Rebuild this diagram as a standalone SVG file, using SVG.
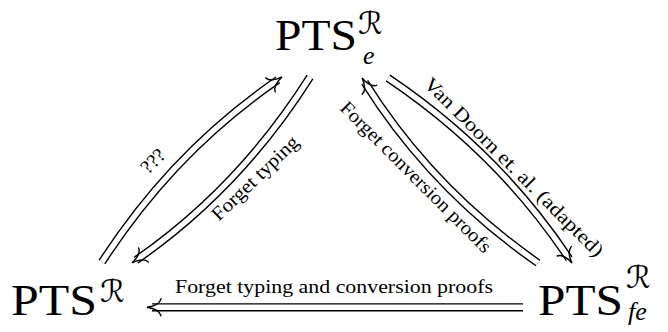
<svg xmlns="http://www.w3.org/2000/svg" width="668" height="332" viewBox="0 0 668 332">
  <style>
    .pts { font-family: "Liberation Serif", "DejaVu Serif", serif; font-size: 44px; fill: #000; }
    .cal { font-family: "DejaVu Sans", "DejaVu Serif", serif; font-size: 31px; fill: #000; }
    .sub { font-family: "Liberation Serif", "DejaVu Serif", serif; font-style: italic; font-size: 26px; fill: #000; }
    .lbl { font-family: "Liberation Serif", "DejaVu Serif", serif; font-size: 19.5px; fill: #000; }
    .rail { fill: none; stroke: #000; stroke-width: 8.2; }
    .gap { fill: none; stroke: #fff; stroke-width: 5.4; }
  </style>
  <defs>
    <!-- open double-arrow head, tip 5px ahead of the shaft end -->
    <marker id="implies" markerUnits="userSpaceOnUse" viewBox="-12 -11 20 22" refX="0" refY="0" markerWidth="20" markerHeight="22" orient="auto" overflow="visible">
      <path d="M -9 -8.5 C -7.5 -2.5, 1 -0.6, 5 0 C 1 0.6, -7.5 2.5, -9 8.5" fill="none" stroke="#000" stroke-width="1.4" stroke-linecap="round"/>
    </marker>
  </defs>
  <rect width="668" height="332" fill="#fff"/>

  <g id="connectors">
    <!-- ??? : PTS^R to PTS_e^R -->
    <path class="rail" d="M102,262 Q173.4,151.4 277.9,79.8"/>
    <path class="gap" d="M102,262 Q173.4,151.4 277.9,79.8" marker-end="url(#implies)"/>
    <!-- Forget typing : PTS_e^R to PTS^R -->
    <path class="rail" d="M310,77 Q239.8,188 136.1,260.1"/>
    <path class="gap" d="M310,77 Q239.8,188 136.1,260.1" marker-end="url(#implies)"/>
    <!-- Van Doorn et. al. : PTS_e^R to PTS_fe^R -->
    <path class="rail" d="M388,78 Q498.4,152.2 569.2,258.8"/>
    <path class="gap" d="M388,78 Q498.4,152.2 569.2,258.8" marker-end="url(#implies)"/>
    <!-- Forget conversion proofs : PTS_fe^R to PTS_e^R -->
    <path class="rail" d="M538,263 Q431.2,188.4 364.7,82.2"/>
    <path class="gap" d="M538,263 Q431.2,188.4 364.7,82.2" marker-end="url(#implies)"/>
    <!-- bottom : PTS_fe^R to PTS^R -->
    <path class="rail" d="M523,307.3 L152,307.3"/>
    <path class="gap" d="M523,307.3 L152,307.3" marker-end="url(#implies)"/>

    <text class="lbl" text-anchor="middle" transform="translate(154,162) rotate(-45)" y="5" textLength="26" lengthAdjust="spacingAndGlyphs">???</text>
    <text class="lbl" text-anchor="middle" transform="translate(256,179) rotate(-44)" y="5" textLength="113" lengthAdjust="spacingAndGlyphs">Forget typing</text>
    <text class="lbl" text-anchor="middle" transform="translate(513,168) rotate(45)" y="5" textLength="245" lengthAdjust="spacingAndGlyphs">Van Doorn et. al. (adapted)</text>
    <text class="lbl" text-anchor="middle" transform="translate(415,178) rotate(45)" y="5" textLength="205" lengthAdjust="spacingAndGlyphs">Forget conversion proofs</text>
    <text class="lbl" x="175" y="293" textLength="318" lengthAdjust="spacingAndGlyphs">Forget typing and conversion proofs</text>
  </g>

  <g id="node-pts-e">
    <text class="pts" x="275" y="50" textLength="82" lengthAdjust="spacingAndGlyphs">PTS</text>
    <text class="cal" x="358" y="34">ℛ</text>
    <text class="sub" x="363" y="64">e</text>
  </g>

  <g id="node-pts">
    <text class="pts" x="11" y="315" textLength="86" lengthAdjust="spacingAndGlyphs">PTS</text>
    <text class="cal" x="100" y="302">ℛ</text>
  </g>

  <g id="node-pts-fe">
    <text class="pts" x="538" y="315" textLength="85" lengthAdjust="spacingAndGlyphs">PTS</text>
    <text class="cal" x="626" y="288">ℛ</text>
    <text class="sub" x="628" y="320">fe</text>
  </g>
</svg>
